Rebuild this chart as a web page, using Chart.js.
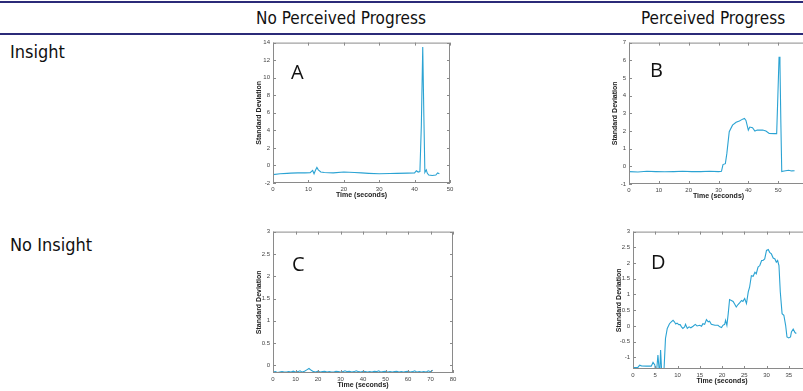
<!DOCTYPE html>
<html>
<head>
<meta charset="utf-8">
<script src="https://cdn.jsdelivr.net/npm/chart.js@4"></script>
<style>
  body { margin: 0; background: #fff; }
  #page { position: relative; width: 803px; height: 391px; overflow: hidden; font-family: "Liberation Sans Narrow", "DejaVu Sans Condensed", sans-serif; color: #111; }
  .rule { position: absolute; left: 0; width: 803px; height: 2px; background: #2b2a78; }
  .head { position: absolute; top: 8px; font-size: 17px; transform: translateX(-50%); white-space: nowrap; }
  .row { position: absolute; left: 10px; font-size: 18px; }
  .box { position: absolute; }
  .letter { position: absolute; font-family: "Open Sans", sans-serif; font-size: 20px; color: #111; }
</style>
</head>
<body>
<div id="page">
  <div class="rule" style="top:1px"></div>
  <div class="head" style="left:341px">No Perceived Progress</div>
  <div class="head" style="left:713px">Perceived Progress</div>
  <div class="rule" style="top:33px"></div>
  <div class="row" style="top:41px">Insight</div>
  <div class="row" style="top:234px">No Insight</div>

  <div class="box" id="boxA"><canvas id="chartA"></canvas></div>
  <div class="box" id="boxB"><canvas id="chartB"></canvas></div>
  <div class="box" id="boxC"><canvas id="chartC"></canvas></div>
  <div class="box" id="boxD"><canvas id="chartD"></canvas></div>

  <div class="letter" style="left:291px;top:58px">A</div>
  <div class="letter" style="left:650px;top:56px">B</div>
  <div class="letter" style="left:292px;top:250px">C</div>
  <div class="letter" style="left:651px;top:248px">D</div>
</div>
<script>
// A: insight, no perceived progress
const aTime = [0, 2, 4, 5, 7, 9, 10.5, 11.2, 11.6, 12.0, 12.4, 12.8, 13.5, 14.5, 17, 20, 23, 25, 27, 30, 33, 35, 38, 40, 40.5, 41.0, 41.5, 41.9, 42.3, 42.6, 42.9, 43.3, 43.6, 44.0, 45, 46, 46.5, 47];
const aValues = [-1.05, -0.95, -0.9, -0.87, -0.85, -0.85, -0.82, -0.57, -0.95, -0.55, -0.23, -0.5, -0.75, -0.8, -0.85, -0.75, -0.8, -0.85, -0.9, -0.95, -0.92, -0.9, -0.88, -0.85, -0.6, -0.75, -0.7, 4.5, 13.5, 6, -0.8, -0.5, -0.9, -1.1, -1.15, -1.1, -0.85, -0.95];

// B: insight, perceived progress
const bTime = [0, 3, 6, 9, 12, 15, 18, 21, 24, 27, 30, 31, 31.5, 32.3, 32.8, 33.6, 34.7, 35.9, 37, 38.1, 38.7, 39.2, 40, 40.5, 41.4, 42.2, 43, 44.8, 45.9, 47, 48.7, 49.5, 49.9, 50.3, 50.6, 50.9, 51.2, 51.6, 52.5, 53.5, 54.5, 55.5];
const bValues = [-0.3, -0.32, -0.28, -0.3, -0.31, -0.3, -0.28, -0.3, -0.3, -0.28, -0.3, -0.28, 0.1, 0.15, 0.73, 1.96, 2.33, 2.49, 2.57, 2.67, 2.71, 2.6, 2.05, 2.22, 2.18, 2.0, 2.05, 2.05, 2.0, 1.86, 1.85, 1.85, 4.0, 6.2, 5.8, 2.5, -0.3, -0.28, -0.25, -0.22, -0.26, -0.25];

// C: no insight, no perceived progress (one sample per second)
const cValues = [-0.15, -0.14, -0.16, -0.15, -0.14, -0.15, -0.15, -0.14, -0.15, -0.13, -0.15, -0.14, -0.12, -0.15, -0.13, -0.10, -0.07, -0.11, -0.14, -0.15, -0.13, -0.15, -0.14, -0.13, -0.15, -0.14, -0.15, -0.15, -0.13, -0.14, -0.15, -0.14, -0.12, -0.14, -0.13, -0.15, -0.14, -0.12, -0.14, -0.15, -0.13, -0.14, -0.15, -0.14, -0.15, -0.13, -0.14, -0.12, -0.15, -0.14, -0.13, -0.15, -0.14, -0.15, -0.14, -0.13, -0.15, -0.14, -0.15, -0.14, -0.13, -0.15, -0.14, -0.12, -0.15, -0.14, -0.15, -0.14, -0.15, -0.12, -0.14, -0.11];
const cTime = cValues.map((v, i) => i);

// D: no insight, perceived progress
const dTime = [0, 1.1, 1.5, 1.9, 3, 4.1, 4.5, 4.9, 5.2, 5.6, 6.0, 6.2, 6.5, 6.9, 7.3, 7.7, 8.2, 8.6, 9.0, 9.3, 9.6, 9.9, 10.3, 10.6, 10.9, 11.2, 11.6, 11.8, 12.2, 12.6, 13.0, 13.5, 14.0, 14.4, 15.0, 15.4, 15.7, 16.1, 16.5, 16.9, 17.2, 17.6, 18.4, 19.1, 19.5, 19.9, 20.2, 20.6, 20.8, 21.1, 21.4, 21.7, 22.1, 22.5, 22.9, 23.2, 23.6, 24.0, 24.4, 24.7, 25.1, 25.5, 25.9, 26.2, 26.6, 27.0, 27.4, 27.7, 28.1, 28.5, 28.9, 29.2, 29.6, 30.0, 30.4, 30.7, 31.1, 31.5, 31.9, 32.2, 32.5, 32.8, 33.1, 33.5, 33.9, 34.3, 34.6, 35.0, 35.4, 35.6, 36.0, 36.4, 36.7];
const dValues = [-1.32, -1.32, -1.25, -1.27, -1.28, -1.28, -1.16, -1.24, -1.6, -0.93, -1.6, -0.77, -1.6, -1.6, -0.4, -0.08, 0.07, 0.13, 0.18, 0.13, 0.06, 0.09, 0.04, 0.04, -0.03, -0.08, -0.03, 0.05, -0.08, -0.03, -0.06, -0.01, 0.05, 0.0, 0.02, -0.01, 0.07, 0.05, 0.2, 0.13, 0.15, 0.05, 0.02, 0.02, -0.03, -0.05, 0.02, 0.05, 0.18, 0.02, 0.39, 0.84, 0.81, 0.78, 0.68, 0.6, 0.68, 0.74, 0.81, 0.78, 0.87, 0.71, 1.08, 1.23, 1.6, 1.58, 1.71, 1.66, 1.87, 1.92, 2.08, 2.08, 2.13, 2.4, 2.43, 2.34, 2.29, 2.16, 2.13, 2.03, 2.08, 1.92, 1.08, 0.39, 0.34, 0.02, -0.35, -0.38, -0.35, -0.19, -0.1, -0.21, -0.24];

const aYTicks = [-2, 0, 2, 4, 6, 8, 10, 12, 14];
const bYTicks = [-1, 0, 1, 2, 3, 4, 5, 6, 7];
const cYTicks = [0, 0.5, 1, 1.5, 2, 2.5, 3];
const dYTicks = [-1, -0.5, 0, 0.5, 1, 1.5, 2, 2.5, 3];
const aXTicks = [0, 10, 20, 30, 40, 50];
const bXTicks = [0, 10, 20, 30, 40, 50, 60];
const cXTicks = [0, 10, 20, 30, 40, 50, 60, 70, 80];
const dXTicks = [0, 5, 10, 15, 20, 25, 30, 35, 40];

const lineColor = '#2ba3d3';
const frameColor = '#8a8a8a';
const tickFont = { family: 'Liberation Sans, Arial, sans-serif', size: 6 };
const titleFont = { family: 'Liberation Sans, Arial, sans-serif', size: 7, weight: 'bold' };

// MATLAB-style box with inward ticks on all four sides
const framePlugin = {
  id: 'frame',
  afterDraw(chart) {
    const { ctx, chartArea: a, scales } = chart;
    ctx.save();
    ctx.strokeStyle = frameColor;
    ctx.lineWidth = 1;
    ctx.strokeRect(a.left + 0.5, a.top + 0.5, a.right - a.left - 1, a.bottom - a.top - 1);
    ctx.beginPath();
    scales.x.ticks.forEach(t => {
      const px = Math.round(scales.x.getPixelForValue(t.value)) + 0.5;
      ctx.moveTo(px, a.bottom); ctx.lineTo(px, a.bottom - 3);
      ctx.moveTo(px, a.top); ctx.lineTo(px, a.top + 3);
    });
    scales.y.ticks.forEach(t => {
      const py = Math.round(scales.y.getPixelForValue(t.value)) + 0.5;
      ctx.moveTo(a.left, py); ctx.lineTo(a.left + 3, py);
      ctx.moveTo(a.right, py); ctx.lineTo(a.right - 3, py);
    });
    ctx.stroke();
    ctx.restore();
  }
};

function makeChart(id, plot, times, values, xr, yr, xTicks, yTicks) {
  const yAxisW = 19, xAxisH = 17, padTop = 6, padRight = 10;
  const box = document.getElementById('box' + id);
  const w = plot.r - plot.l + yAxisW + padRight;
  const h = plot.b - plot.t + xAxisH + padTop;
  box.style.left = (plot.l - yAxisW) + 'px';
  box.style.top = (plot.t - padTop) + 'px';
  box.style.width = w + 'px';
  box.style.height = h + 'px';

  new Chart(document.getElementById('chart' + id), {
    type: 'line',
    data: {
      datasets: [{
        data: times.map((t, i) => ({ x: t, y: values[i] })),
        borderColor: lineColor,
        borderWidth: 1.1,
        pointRadius: 0,
        tension: 0
      }]
    },
    options: {
      responsive: true,
      maintainAspectRatio: false,
      animation: false,
      layout: { padding: { top: padTop, right: padRight, left: 0, bottom: 0 } },
      plugins: { legend: { display: false }, tooltip: { enabled: false } },
      scales: {
        x: {
          type: 'linear', min: xr[0], max: xr[1],
          afterBuildTicks: s => { s.ticks = xTicks.map(v => ({ value: v })); },
          afterFit: s => { s.height = xAxisH; },
          grid: { display: false, drawTicks: false },
          border: { display: false },
          ticks: { font: tickFont, color: '#444', padding: 3, maxRotation: 0, callback: v => String(v) },
          title: { display: true, text: 'Time (seconds)', font: titleFont, color: '#222', padding: { top: 0, bottom: 1 } }
        },
        y: {
          type: 'linear', min: yr[0], max: yr[1],
          afterBuildTicks: s => { s.ticks = yTicks.map(v => ({ value: v })); },
          afterFit: s => { s.width = yAxisW; },
          grid: { display: false, drawTicks: false },
          border: { display: false },
          ticks: { font: tickFont, color: '#444', padding: 3, callback: v => String(v) },
          title: { display: true, text: 'Standard Deviation', font: titleFont, color: '#222', padding: { top: 1, bottom: 0 } }
        }
      }
    },
    plugins: [framePlugin]
  });
}

makeChart('A', { l: 273, r: 450, t: 42, b: 183 }, aTime, aValues, [0, 50], [-2, 14], aXTicks, aYTicks);
makeChart('B', { l: 629, r: 808, t: 42, b: 184 }, bTime, bValues, [0, 60], [-1, 7], bXTicks, bYTicks);
makeChart('C', { l: 273, r: 453, t: 231, b: 373 }, cTime, cValues, [0, 80], [-0.17, 3], cXTicks, cYTicks);
makeChart('D', { l: 633, r: 811, t: 231, b: 369 }, dTime, dValues, [0, 40], [-1.37, 3], dXTicks, dYTicks);
</script>
</body>
</html>
